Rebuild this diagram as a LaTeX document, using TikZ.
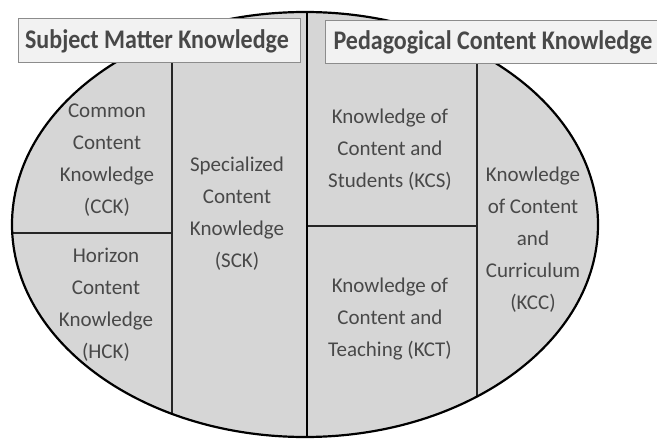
\documentclass[tikz,border=0pt]{standalone}
\usepackage{fontspec}
\setmainfont{Carlito}
\definecolor{ellfill}{HTML}{D6D6D6}
\definecolor{boxfill}{HTML}{F2F2F2}
\definecolor{boxline}{HTML}{8C8C8C}
\definecolor{txt}{HTML}{484848}
\newcommand{\headstretch}[1]{\scalebox{1}[1.12]{#1}}
\tikzset{
  divider/.style={line width=2pt, draw=black!85},
  maindiv/.style={line width=2.6pt, draw=black},
  outline/.style={line width=2.2pt, draw=black},
  headbox/.style={fill=boxfill, draw=boxline, line width=1pt},
  headtxt/.style={text=txt, font=\fontsize{24}{28}\selectfont\bfseries, inner sep=0pt},
  bodytxt/.style={text=txt, font=\fontsize{21}{32}\selectfont, align=center, inner sep=0pt},
}
\begin{document}
\begin{tikzpicture}[x=1pt,y=-1pt]
\useasboundingbox (0,0) rectangle (657,439);
\fill[white] (0,0) rectangle (657,439);
\coordinate (C) at (305,224.5);
\fill[ellfill] (C) ellipse [x radius=293, y radius=212.5];
\begin{scope}
  \clip (C) ellipse [x radius=293, y radius=212.5];
  \draw[divider] (172,62) -- (172,439);
  \draw[divider] (0,233) -- (172,233);
  \draw[divider] (307,226) -- (477,226);
  \draw[divider] (477,62) -- (477,439);
  \draw[maindiv] (307,0) -- (307,439);
\end{scope}
\draw[outline] (C) ellipse [x radius=293, y radius=212.5];
\draw[maindiv] (307,12) -- (307,70);
% heading boxes
\draw[headbox] (18,18) rectangle (300,62);
\draw[headbox] (325,20) rectangle (658,63);
\node[headtxt] (smk) at (157,41) {\headstretch{Subject Matter Knowledge}};
\node[headtxt] (pck) at (493,42) {\headstretch{Pedagogical Content Knowledge}};
% body texts
\node[bodytxt] (cck) at (107,160) {Common\\Content\\Knowledge\\(CCK)};
\node[bodytxt] (hck) at (106,305) {Horizon\\Content\\Knowledge\\(HCK)};
\node[bodytxt] (sck) at (237,214) {Specialized\\Content\\Knowledge\\(SCK)};
\node[bodytxt] (kcs) at (390,150) {Knowledge of\\Content and\\Students (KCS)};
\node[bodytxt] (kct) at (390,319) {Knowledge of\\Content and\\Teaching (KCT)};
\node[bodytxt] (kcc) at (533,240) {Knowledge\\of Content\\and\\Curriculum\\(KCC)};
\end{tikzpicture}
\end{document}
